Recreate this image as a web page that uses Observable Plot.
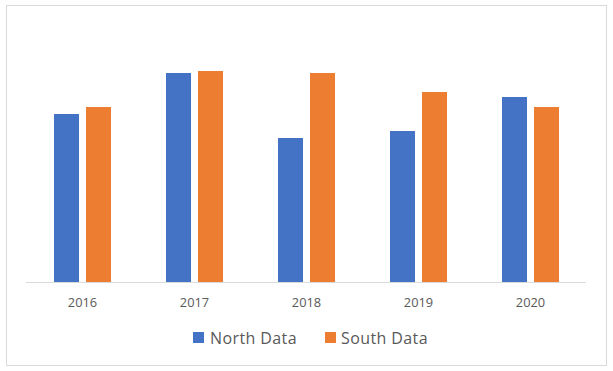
<!DOCTYPE html>
<html>
<head>
<meta charset="utf-8">
<script src="https://cdn.jsdelivr.net/npm/d3@7"></script>
<script src="https://cdn.jsdelivr.net/npm/@observablehq/plot@0.6"></script>
<style>
  html, body { margin: 0; padding: 0; background: #fff; }
  #wrap { position: relative; width: 613px; height: 371px; overflow: hidden; font-family: "Open Sans", sans-serif; }
  #frame { position: absolute; left: 6px; top: 5px; width: 601px; height: 361px; box-sizing: border-box; border: 1px solid #d9d9d9; }
  #chart { position: absolute; left: 0; top: 0; }
  .sw { position: absolute; width: 11px; height: 11px; }
  .lt { position: absolute; font-size: 16px; line-height: 16px; color: #595959; letter-spacing: 0.4px; white-space: nowrap; }
</style>
</head>
<body>
<div id="wrap">
  <div id="frame"></div>
  <div id="chart"></div>
  <div id="legend"></div>
</div>
<script>
const years = ["2016", "2017", "2018", "2019", "2020"];
const seriesNames = ["North Data", "South Data"];
const northValues = [168, 209, 144, 151, 185];
const southValues = [175, 211, 209, 190, 175];
const colors = ["#4472C4", "#ED7D31"];

const rows = [];
years.forEach((yr, i) => {
  rows.push({year: yr, series: seriesNames[0], value: northValues[i]});
  rows.push({year: yr, series: seriesNames[1], value: southValues[i]});
});

const plot = Plot.plot({
  width: 613,
  height: 320,
  marginLeft: 25,
  marginRight: 26,
  marginTop: 32,
  marginBottom: 38,
  style: {fontFamily: "'Open Sans', sans-serif", fontSize: "12.8px", color: "#595959", background: "transparent"},
  fx: {domain: years, padding: 0, label: null, tickSize: 0, tickPadding: 15},
  x: {domain: seriesNames, paddingInner: 0.21875, paddingOuter: 0.84375, axis: null},
  y: {domain: [0, 250], axis: null},
  color: {domain: seriesNames, range: colors},
  marks: [
    Plot.barY(rows, {fx: "year", x: "series", y: "value", fill: "series"}),
    Plot.ruleY([0], {stroke: "#d9d9d9", strokeWidth: 1})
  ]
});
document.getElementById("chart").appendChild(plot);

const legend = document.getElementById("legend");
const legendPos = [{sw: 193, tx: 210}, {sw: 325, tx: 341}];
seriesNames.forEach((name, i) => {
  const s = document.createElement("div");
  s.className = "sw";
  s.style.left = legendPos[i].sw + "px";
  s.style.top = "332px";
  s.style.background = colors[i];
  legend.appendChild(s);
  const t = document.createElement("div");
  t.className = "lt";
  t.style.left = legendPos[i].tx + "px";
  t.style.top = "330px";
  t.textContent = name;
  legend.appendChild(t);
});
</script>
</body>
</html>
